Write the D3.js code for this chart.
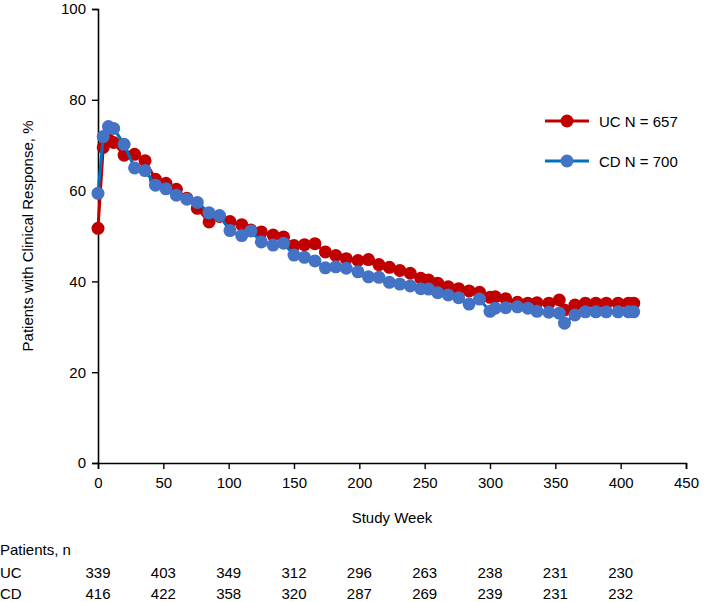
<!DOCTYPE html>
<html>
<head>
<meta charset="utf-8">
<script src="https://cdn.jsdelivr.net/npm/d3@7"></script>
<style>
  html, body { margin: 0; padding: 0; background: #fff; }
  svg { display: block; }
  text { font-family: "Liberation Sans", Arial, Helvetica, sans-serif; fill: #000; }
</style>
</head>
<body>
<svg id="chart" width="709" height="602"></svg>
<script>
// ---- data ----
const weeks = [0,4,8,12,20,28,36,44,52,60,68,76,85,93,101,110,117,125,134,142,150,158,166,174,182,190,199,207,215,223,231,239,247,253,260,268,276,284,292,300,304,312,321,329,336,345,353,357,365,373,381,389,398,406,410];
const ucValues = [51.7,69.5,71.2,70.6,67.8,68.0,66.6,62.5,61.6,60.3,58.3,56.1,53.1,54.3,53.2,52.5,51.3,50.9,50.2,49.8,47.9,48.1,48.3,46.5,45.7,45.0,44.6,44.8,43.7,43.1,42.4,41.8,40.7,40.3,39.6,38.8,38.4,37.9,37.6,36.5,36.6,36.2,35.4,35.2,35.3,35.2,35.9,33.7,34.8,35.2,35.2,35.2,35.2,35.2,35.2];
const cdValues = [59.4,71.9,74.1,73.7,70.2,65.0,64.4,61.2,60.4,59.0,58.1,57.4,55.1,54.5,51.2,50.1,51.1,48.7,48.0,48.4,45.8,45.3,44.5,43.0,43.2,42.9,42.1,41.0,40.9,39.8,39.4,39.0,38.4,38.3,37.5,37.0,36.4,35.0,36.1,33.4,34.1,34.2,34.4,34.1,33.4,33.2,33.0,30.8,32.6,33.3,33.3,33.3,33.3,33.3,33.3];
const seriesNames = ["UC N = 657", "CD N = 700"];
const xTicks = [0,50,100,150,200,250,300,350,400,450];
const yTicks = [0,20,40,60,80,100];
const patientWeeks = [0,50,100,150,200,250,300,350,400];
const ucPatients = [339,403,349,312,296,263,238,231,230];
const cdPatients = [416,422,358,320,287,269,239,231,232];

// ---- layout ----
const svg = d3.select("#chart");
const x = d3.scaleLinear().domain([0,450]).range([98,686]);
const y = d3.scaleLinear().domain([0,100]).range([463,9]);
const fs = 15;

const ucColor = "#c00000", ucLine = "#c00000";
const cdColor = "#4472c4", cdLine = "#0070c0";
const r = 6.5;

// y axis
const yAxis = svg.append("g").attr("transform", "translate(98,0)")
  .call(d3.axisLeft(y).tickValues(yTicks).tickSize(6).tickPadding(6));
yAxis.select(".domain").attr("stroke", "#000").attr("stroke-width", 1.6);
yAxis.selectAll(".tick line").attr("stroke", "#000").attr("stroke-width", 1.4);
yAxis.selectAll(".tick text").attr("font-size", fs).attr("font-family", "Liberation Sans, Arial, sans-serif");

// x axis
const xAxis = svg.append("g").attr("transform", "translate(0,463)")
  .call(d3.axisBottom(x).tickValues(xTicks).tickSize(6).tickPadding(8));
xAxis.select(".domain").attr("stroke", "#000").attr("stroke-width", 1.6);
xAxis.selectAll(".tick line").attr("stroke", "#000").attr("stroke-width", 1.4);
xAxis.selectAll(".tick text").attr("font-size", fs).attr("font-family", "Liberation Sans, Arial, sans-serif");

// axis titles
svg.append("text")
  .attr("transform", "translate(33,236) rotate(-90)")
  .attr("text-anchor", "middle")
  .attr("font-size", fs)
  .text("Patients with Clinical Response, %");
svg.append("text")
  .attr("x", 392).attr("y", 523)
  .attr("text-anchor", "middle")
  .attr("font-size", fs)
  .text("Study Week");

// series
const line = d3.line().x(d => x(d[0])).y(d => y(d[1]));
const ucData = weeks.map((w,i) => [w, ucValues[i]]);
const cdData = weeks.map((w,i) => [w, cdValues[i]]);

function drawSeries(data, lc, dc) {
  svg.append("path").datum(data)
    .attr("fill", "none").attr("stroke", lc).attr("stroke-width", 3)
    .attr("stroke-linejoin", "round").attr("d", line);
  svg.append("g").selectAll("circle").data(data).join("circle")
    .attr("cx", d => x(d[0])).attr("cy", d => y(d[1])).attr("r", r)
    .attr("fill", dc);
}
drawSeries(ucData, ucLine, ucColor);
drawSeries(cdData, cdLine, cdColor);

// legend
const legend = [
  {name: seriesNames[0], lc: ucLine, dc: ucColor, y: 121},
  {name: seriesNames[1], lc: cdLine, dc: cdColor, y: 161}
];
legend.forEach(l => {
  svg.append("line").attr("x1", 545).attr("x2", 589).attr("y1", l.y).attr("y2", l.y)
    .attr("stroke", l.lc).attr("stroke-width", 3);
  svg.append("circle").attr("cx", 567).attr("cy", l.y).attr("r", r).attr("fill", l.dc);
  svg.append("text").attr("x", 599).attr("y", l.y + 5.5).attr("font-size", fs).text(l.name);
});

// patients table
svg.append("text").attr("x", 0).attr("y", 555).attr("font-size", fs).text("Patients, n");
svg.append("text").attr("x", 0).attr("y", 578).attr("font-size", fs).text("UC");
svg.append("text").attr("x", 0).attr("y", 599).attr("font-size", fs).text("CD");
svg.append("g").selectAll("text").data(ucPatients).join("text")
  .attr("x", (d,i) => x(patientWeeks[i])).attr("y", 578)
  .attr("text-anchor", "middle").attr("font-size", fs).text(d => d);
svg.append("g").selectAll("text").data(cdPatients).join("text")
  .attr("x", (d,i) => x(patientWeeks[i])).attr("y", 599)
  .attr("text-anchor", "middle").attr("font-size", fs).text(d => d);
</script>
</body>
</html>
